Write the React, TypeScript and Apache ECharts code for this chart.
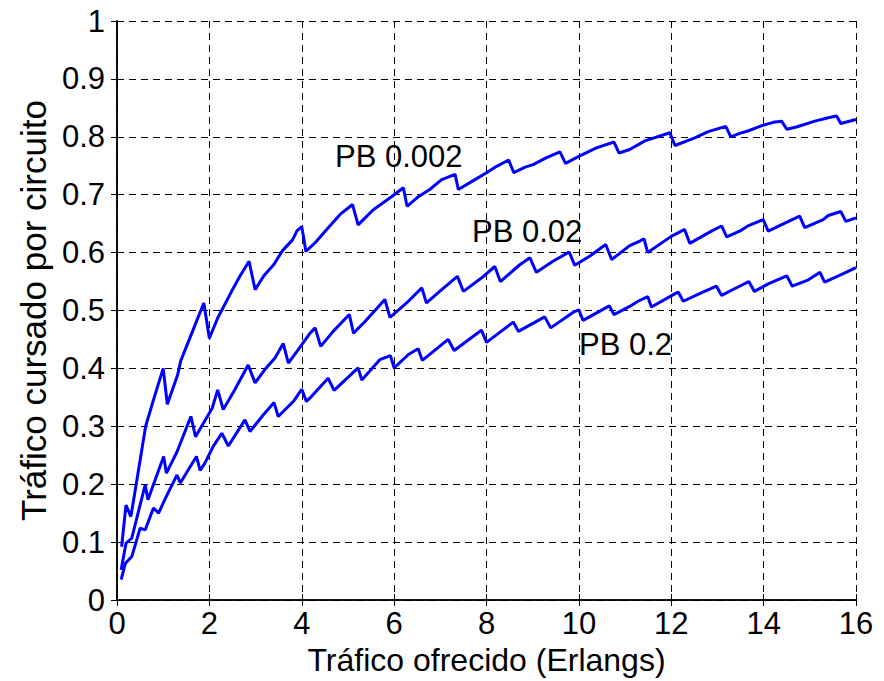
import React, { useEffect, useRef } from "react";
import * as echarts from "echarts";

// PB 0.002 curve: [offered traffic (Erlangs), carried traffic per circuit]
const pb002: [number, number][] = [
  [0.10, 0.092], [0.195, 0.164], [0.30, 0.144], [0.42, 0.202], [0.62, 0.300],
  [0.78, 0.343], [1.00, 0.400], [1.09, 0.338], [1.31, 0.388], [1.38, 0.413],
  [1.68, 0.473], [1.88, 0.513], [2.00, 0.452], [2.18, 0.487], [2.37, 0.516],
  [2.50, 0.536], [2.66, 0.559], [2.86, 0.585], [2.99, 0.536], [3.18, 0.560],
  [3.40, 0.580], [3.58, 0.603], [3.80, 0.622], [3.90, 0.638], [4.00, 0.645],
  [4.09, 0.602], [4.29, 0.617], [4.54, 0.640], [4.83, 0.666], [5.10, 0.683],
  [5.22, 0.648], [5.55, 0.674], [5.95, 0.697], [6.20, 0.712], [6.28, 0.680],
  [6.50, 0.695], [6.77, 0.709], [7.03, 0.726], [7.32, 0.735], [7.39, 0.709],
  [7.75, 0.726], [8.00, 0.738], [8.22, 0.749], [8.48, 0.760], [8.59, 0.738],
  [8.85, 0.748], [9.01, 0.752], [9.30, 0.764], [9.59, 0.774], [9.71, 0.754],
  [10.02, 0.767], [10.38, 0.781], [10.76, 0.791], [10.87, 0.772], [11.10, 0.778],
  [11.43, 0.793], [11.97, 0.807], [12.08, 0.785], [12.51, 0.798], [12.80, 0.809],
  [13.18, 0.818], [13.29, 0.800], [13.48, 0.806], [13.66, 0.810], [13.99, 0.820],
  [14.21, 0.825], [14.39, 0.827], [14.50, 0.813], [14.71, 0.817], [15.11, 0.827],
  [15.40, 0.833], [15.58, 0.836], [15.67, 0.823], [16.00, 0.830],
];

// PB 0.02 curve
const pb02: [number, number][] = [
  [0.09, 0.052], [0.195, 0.098], [0.32, 0.107], [0.61, 0.199], [0.67, 0.173],
  [1.01, 0.248], [1.07, 0.219], [1.30, 0.256], [1.60, 0.317], [1.70, 0.282],
  [2.06, 0.331], [2.18, 0.363], [2.30, 0.329], [2.55, 0.363], [2.84, 0.406],
  [2.99, 0.375], [3.20, 0.398], [3.42, 0.418], [3.60, 0.443], [3.71, 0.409],
  [3.92, 0.432], [4.18, 0.461], [4.29, 0.470], [4.41, 0.438], [4.68, 0.464],
  [5.03, 0.493], [5.12, 0.461], [5.37, 0.481], [5.80, 0.519], [5.91, 0.488],
  [6.27, 0.513], [6.60, 0.539], [6.70, 0.513], [7.03, 0.536], [7.37, 0.559],
  [7.50, 0.533], [7.89, 0.556], [8.18, 0.576], [8.30, 0.550], [8.72, 0.579],
  [8.94, 0.591], [9.08, 0.566], [9.44, 0.585], [9.79, 0.601], [9.91, 0.578],
  [10.24, 0.594], [10.58, 0.614], [10.71, 0.588], [11.10, 0.612], [11.32, 0.620],
  [11.41, 0.624], [11.49, 0.600], [12.00, 0.628], [12.29, 0.640], [12.40, 0.616],
  [12.87, 0.637], [13.09, 0.646], [13.20, 0.627], [13.48, 0.637], [13.66, 0.646],
  [13.99, 0.657], [14.10, 0.637], [14.46, 0.651], [14.78, 0.663], [14.89, 0.643],
  [15.29, 0.657], [15.40, 0.664], [15.67, 0.671], [15.78, 0.654], [16.00, 0.660],
];

// PB 0.2 curve
const pb2: [number, number][] = [
  [0.09, 0.035], [0.18, 0.063], [0.32, 0.075], [0.50, 0.124], [0.61, 0.121],
  [0.79, 0.159], [0.90, 0.150], [1.05, 0.176], [1.30, 0.216], [1.37, 0.202],
  [1.72, 0.248], [1.80, 0.224], [1.90, 0.236], [2.08, 0.265], [2.27, 0.288],
  [2.41, 0.266], [2.77, 0.311], [2.88, 0.291], [3.17, 0.320], [3.40, 0.341],
  [3.49, 0.317], [3.82, 0.343], [4.00, 0.364], [4.10, 0.343], [4.18, 0.349],
  [4.57, 0.383], [4.70, 0.362], [5.22, 0.401], [5.30, 0.380], [5.69, 0.415],
  [5.92, 0.422], [6.00, 0.401], [6.31, 0.424], [6.52, 0.434], [6.61, 0.414],
  [7.17, 0.450], [7.30, 0.431], [7.89, 0.466], [8.00, 0.445], [8.58, 0.480],
  [8.69, 0.464], [9.26, 0.489], [9.39, 0.470], [9.88, 0.497], [10.00, 0.501],
  [10.09, 0.483], [10.66, 0.508], [10.76, 0.493], [11.10, 0.507], [11.28, 0.516],
  [11.49, 0.524], [11.57, 0.506], [11.97, 0.524], [12.15, 0.532], [12.26, 0.516],
  [12.66, 0.531], [12.98, 0.542], [13.09, 0.526], [13.38, 0.538], [13.68, 0.550],
  [13.80, 0.533], [14.10, 0.546], [14.50, 0.560], [14.62, 0.542], [14.97, 0.553],
  [15.22, 0.566], [15.32, 0.549], [15.76, 0.565], [16.00, 0.574],
];

const seriesNames = ["PB 0.002", "PB 0.02", "PB 0.2"];
const xTitle = "Tráfico ofrecido (Erlangs)";
const yTitle = "Tráfico cursado por circuito";

const FONT = "'Liberation Sans', Arial, Helvetica, sans-serif";

export default function App() {
  const ref = useRef<HTMLDivElement>(null);
  useEffect(() => {
    if (!ref.current) return;
    const chart = echarts.init(ref.current, undefined, { renderer: "svg" });
    const line = (name: string, data: [number, number][]) => ({
      name,
      type: "line" as const,
      data,
      showSymbol: false,
      symbol: "none",
      lineStyle: { color: "#0000ff", width: 3 },
      itemStyle: { color: "#0000ff" },
      z: 5,
    });
    const boxAxisCommon = {
      axisLine: { show: true, lineStyle: { color: "#000", width: 1.5 } },
      axisTick: { show: true, inside: true, length: 6, lineStyle: { color: "#000", width: 1 } },
    };
    chart.setOption({
      animation: false,
      backgroundColor: "#fff",
      textStyle: { fontFamily: FONT, color: "#000" },
      grid: { left: 117, right: 28, top: 21, bottom: 81, containLabel: false },
      xAxis: [
        {
          type: "value",
          min: 0,
          max: 16,
          interval: 2,
          position: "bottom",
          ...boxAxisCommon,
          axisLabel: { fontSize: 31, color: "#000", margin: 8, fontFamily: FONT },
          splitLine: { show: true, lineStyle: { color: "#000", type: [7, 5], width: 1 } },
          name: xTitle,
          nameLocation: "middle",
          nameGap: 40,
          nameTextStyle: { fontSize: 32, color: "#000", fontFamily: FONT },
        },
        {
          type: "value",
          min: 0,
          max: 16,
          interval: 2,
          position: "top",
          ...boxAxisCommon,
          axisLabel: { show: false },
          splitLine: { show: false },
        },
      ],
      yAxis: [
        {
          type: "value",
          min: 0,
          max: 1,
          interval: 0.1,
          position: "left",
          ...boxAxisCommon,
          axisLabel: {
            fontSize: 31,
            color: "#000",
            margin: 12,
            fontFamily: FONT,
            formatter: (v: number) => String(+v.toFixed(1)),
          },
          splitLine: { show: true, lineStyle: { color: "#000", type: [7, 5], width: 1 } },
          name: yTitle,
          nameLocation: "middle",
          nameGap: 58,
          nameTextStyle: { fontSize: 35, color: "#000", fontFamily: FONT },
        },
        {
          type: "value",
          min: 0,
          max: 1,
          interval: 0.1,
          position: "right",
          ...boxAxisCommon,
          axisLabel: { show: false },
          splitLine: { show: false },
        },
      ],
      series: [line(seriesNames[0], pb002), line(seriesNames[1], pb02), line(seriesNames[2], pb2)],
      graphic: [
        { type: "text", left: 335, top: 141, style: { text: seriesNames[0], fontSize: 31, fill: "#000", fontFamily: FONT } },
        { type: "text", left: 472, top: 216, style: { text: seriesNames[1], fontSize: 31, fill: "#000", fontFamily: FONT } },
        { type: "text", left: 579, top: 329, style: { text: seriesNames[2], fontSize: 31, fill: "#000", fontFamily: FONT } },
      ],
    });
    return () => chart.dispose();
  }, []);
  return (
    <div
      ref={ref}
      style={{ position: "fixed", left: 0, top: 0, width: 884, height: 681, background: "#fff" }}
    />
  );
}
